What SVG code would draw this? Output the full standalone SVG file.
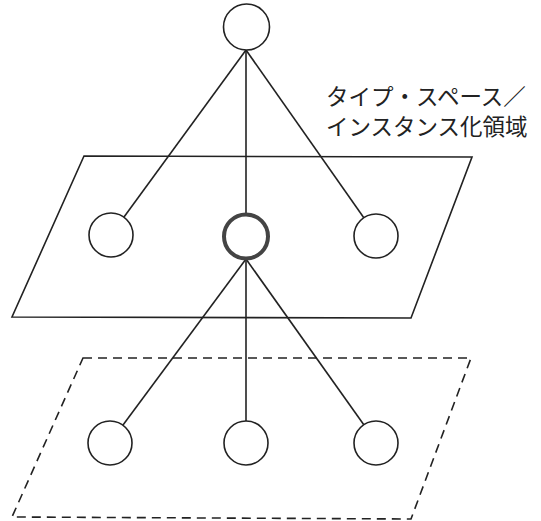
<svg xmlns="http://www.w3.org/2000/svg" width="541" height="521" viewBox="0 0 541 521">
<style>
.ln{stroke:#222;stroke-width:1.6;fill:none}
.nd{stroke:#222;stroke-width:1.6;fill:#fff}
.thick{stroke:#444;stroke-width:4;fill:#fff}
.plane{stroke:#222;stroke-width:1.6;fill:none}
.dash{stroke:#222;stroke-width:1.6;fill:none;stroke-dasharray:9,6}
.lbl{font-family:"Noto Sans CJK JP","Noto Sans",sans-serif;font-size:22.5px;fill:#222}
</style>
<rect width="541" height="521" fill="#fff"/>
<g id="plane-upper"><polygon class="plane" points="84,156 472,157 411,318 12,317"/></g>
<g id="plane-lower"><polygon class="dash" points="83,358 471,358 411,519 12,517"/></g>
<g id="connectors">
<line class="ln" x1="246" y1="50" x2="124" y2="217"/>
<line class="ln" x1="246" y1="50" x2="246" y2="213"/>
<line class="ln" x1="246" y1="50" x2="364" y2="218"/>
<line class="ln" x1="246" y1="259" x2="123" y2="425"/>
<line class="ln" x1="246" y1="259" x2="246" y2="421"/>
<line class="ln" x1="246" y1="259" x2="364" y2="425"/>
</g>
<g id="node-top"><circle class="nd" cx="246.5" cy="27" r="23"/></g>
<g id="node-mid-left"><circle class="nd" cx="111" cy="235" r="22"/></g>
<g id="node-mid-center"><circle class="thick" cx="246" cy="236.5" r="22"/></g>
<g id="node-mid-right"><circle class="nd" cx="376" cy="236" r="22"/></g>
<g id="node-low-left"><circle class="nd" cx="110" cy="443" r="22"/></g>
<g id="node-low-center"><circle class="nd" cx="246" cy="443" r="22"/></g>
<g id="node-low-right"><circle class="nd" cx="376" cy="443" r="22"/></g>
<g id="label">
<text class="lbl" x="326" y="105">タイプ・スペース／</text>
<text class="lbl" x="326" y="135">インスタンス化領域</text>
</g>
</svg>
